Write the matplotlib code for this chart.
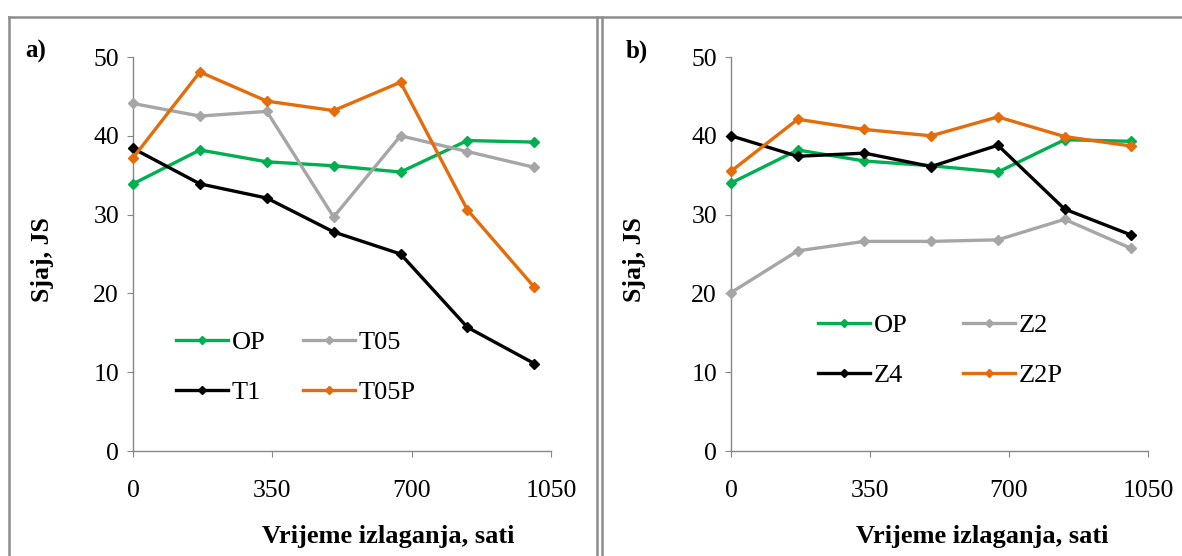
import matplotlib
matplotlib.use('Agg')
import matplotlib.pyplot as plt
from matplotlib.lines import Line2D

plt.rcParams['font.family'] = ['Liberation Serif', 'DejaVu Serif']

# exposure time, hours
hours = [0, 168, 336, 504, 672, 840, 1008]

# panel a)
op_a = [33.9, 38.2, 36.7, 36.2, 35.4, 39.4, 39.2]
t05 = [44.1, 42.5, 43.1, 29.7, 40.0, 38.0, 36.0]
t1 = [38.4, 33.9, 32.1, 27.8, 25.0, 15.7, 11.1]
t05p = [37.2, 48.1, 44.4, 43.2, 46.8, 30.6, 20.8]

# panel b)
op_b = [34.0, 38.2, 36.8, 36.2, 35.4, 39.5, 39.3]
z2 = [20.1, 25.4, 26.6, 26.6, 26.8, 29.4, 25.7]
z4 = [40.0, 37.4, 37.8, 36.1, 38.8, 30.7, 27.4]
z2p = [35.5, 42.1, 40.8, 40.0, 42.4, 39.9, 38.7]

GREEN = '#00B050'
GRAY = '#A6A6A6'
BLACK = '#000000'
ORANGE = '#E46C0A'
AXCOL = '#868686'

W, H = 1182, 556
fig = plt.figure(figsize=(W / 100, H / 100), dpi=100)


def fx(px):
    return px / W


def fy(py):
    return 1 - py / H


def setup_axes(ax):
    ax.set_xlim(0, 1050)
    ax.set_ylim(0, 50)
    ax.set_xticks([0, 350, 700, 1050])
    ax.set_yticks([0, 10, 20, 30, 40, 50])
    for s in ['top', 'right']:
        ax.spines[s].set_visible(False)
    for s in ['left', 'bottom']:
        ax.spines[s].set_color(AXCOL)
        ax.spines[s].set_linewidth(1.0)
    ax.tick_params(axis='x', direction='out', length=4, color=AXCOL,
                   labelsize=18.5, pad=17)
    ax.tick_params(axis='y', direction='out', length=4, color=AXCOL,
                   labelsize=18.5, pad=6)
    ax.patch.set_alpha(0)


def plot_series(ax, data, labels, colors):
    lines = []
    for y, lab, c in zip(data, labels, colors):
        ln, = ax.plot(hours, y, color=c, lw=2.4, marker='D', ms=5.5,
                      label=lab, clip_on=False, zorder=3)
        lines.append(ln)
    return lines


ax1 = fig.add_axes([fx(133), fy(451), fx(551 - 133), (451 - 57) / H])
ax2 = fig.add_axes([fx(731), fy(451), fx(1148 - 731), (451 - 57) / H])

for ax in (ax1, ax2):
    setup_axes(ax)

l1 = plot_series(ax1, [op_a, t05, t1, t05p], ['OP', 'T05', 'T1', 'T05P'],
                 [GREEN, GRAY, BLACK, ORANGE])
l2 = plot_series(ax2, [op_b, z2, z4, z2p], ['OP', 'Z2', 'Z4', 'Z2P'],
                 [GREEN, GRAY, BLACK, ORANGE])


def make_legend(lines, x0, y0, colsp):
    order = [0, 2, 1, 3]
    handles = [Line2D([], [], color=lines[i].get_color(), lw=2.4,
                      marker='D', ms=4) for i in order]
    labels = [lines[i].get_label() for i in order]
    fig.legend(handles, labels, loc='upper left',
               bbox_to_anchor=(fx(x0), fy(y0)), ncol=2, frameon=False,
               fontsize=19, handlelength=1.97, handletextpad=0.15,
               columnspacing=colsp, labelspacing=1.0, borderpad=0,
               borderaxespad=0)


make_legend(l1, 176, 331, 1.4)
make_legend(l2, 818, 314, 2.08)

# axis labels
for cx, lx in [(388, 42), (982, 635)]:
    fig.text(fx(cx), fy(536), 'Vrijeme izlaganja, sati', ha='center',
             va='center', fontsize=19, fontweight='bold')
    fig.text(fx(lx), fy(260), 'Sjaj, JS', ha='center', va='center',
             rotation=90, fontsize=18.5, fontweight='bold')

fig.text(fx(25), fy(51), 'a)', ha='left', va='center', fontsize=18,
         fontweight='bold')
fig.text(fx(626), fy(51), 'b)', ha='left', va='center', fontsize=18,
         fontweight='bold')

# panel frames
frame = dict(color='#8C8C8C', lw=1.8, transform=fig.transFigure)
fig.add_artist(Line2D([fx(9), fx(9)], [0, fy(17)], **frame))
fig.add_artist(Line2D([fx(9), 1], [fy(17), fy(17)], **frame))
fig.add_artist(Line2D([fx(597), fx(597)], [0, fy(17)], **frame))
fig.add_artist(Line2D([fx(601.5), fx(601.5)], [0, fy(17)], **frame))

fig.savefig('out.png', dpi=100)
